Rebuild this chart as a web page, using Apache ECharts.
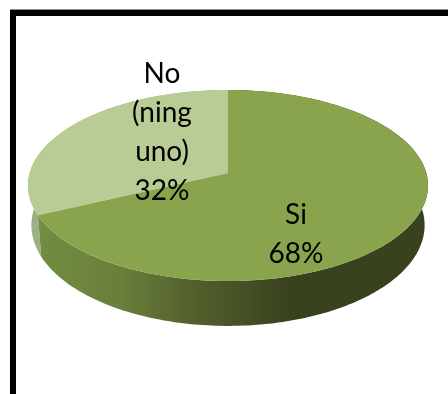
<!DOCTYPE html>
<html>
<head>
<meta charset="utf-8">
<style>
  html, body { margin: 0; padding: 0; background: #fff; overflow: hidden; }
  #chart { width: 448px; height: 394px; }
</style>
<script src="https://cdn.jsdelivr.net/npm/echarts@6/dist/echarts.min.js"></script>
</head>
<body>
<div id="chart"></div>
<script>
// Survey answers
const categories = ['No\n(ning\nuno)', 'Si'];
const values = [32, 68];

// Slice appearance, in the same order as the categories
const topColors = ['#B9CC95', '#89A44C'];
const wallFills = [
  '#9DB082',
  [[0, '#718E41'], [0.21, '#6B7E3B'], [0.41, '#505E2C'], [0.645, '#39421E'], [1, '#39421E']]
];
const labelSpots = [[162, 132], [296, 234]];

// Tilted-disc projection: the near side of the disc is drawn larger than the far side
const disc = { cx: 228, cy: 173, rx: 198.3, ry: 93.9, tilt: 0.1309, depth: 39, baseShrink: 0.983 };

function project(angle, drop) {
  const u = Math.sin(angle), v = -Math.cos(angle);
  const w = 1 - disc.tilt * v;
  const s = drop ? disc.baseShrink : 1;
  return [
    disc.cx + disc.rx * u * s / w,
    disc.cy + disc.ry * v / w + (drop ? disc.depth / w : 0)
  ];
}

function rim(from, to, drop) {
  const pts = [];
  const steps = Math.max(8, Math.ceil(Math.abs(to - from) / 0.02));
  for (let i = 0; i <= steps; i++) pts.push(project(from + (to - from) * i / steps, drop));
  return pts;
}

const total = values.reduce((a, b) => a + b, 0);

function renderSlice(params, api) {
  const i = params.dataIndex;
  const before = values.slice(0, i).reduce((a, b) => a + b, 0);
  // The first slice ends at twelve o'clock; slices run clockwise from its start
  const start = ((before - values[0]) / total) * Math.PI * 2;
  const end = start + (api.value(0) / total) * Math.PI * 2;

  const top = rim(start, end, false);
  const wallPts = top.concat(rim(end, start, true));
  const f = wallFills[i];
  const wallFill = Array.isArray(f)
    ? new echarts.graphic.LinearGradient(0, 0, 1, 0, f.map(s => ({ offset: s[0], color: s[1] })))
    : f;

  return {
    type: 'group',
    children: [
      { type: 'polygon', shape: { points: wallPts }, style: { fill: wallFill }, silent: true },
      { type: 'polygon', shape: { points: [[disc.cx, disc.cy]].concat(top) }, style: { fill: topColors[i] }, silent: true },
      {
        type: 'text', z2: 20, silent: true,
        style: {
          text: categories[i] + '\n' + Math.round(api.value(0) / total * 100) + '%',
          x: labelSpots[i][0], y: labelSpots[i][1],
          align: 'center', verticalAlign: 'middle',
          font: '28px Lato', lineHeight: 39, fill: '#000'
        }
      }
    ]
  };
}

const chart = echarts.init(document.getElementById('chart'), null, { renderer: 'canvas' });
chart.setOption({
  animation: false,
  backgroundColor: '#fff',
  graphic: [
    // Outer frame, running off the right and bottom edges
    {
      type: 'rect', silent: true,
      shape: { x: 13, y: 13, width: 600, height: 600 },
      style: { fill: 'none', stroke: '#000', lineWidth: 6 }
    },
    {
      type: 'rect', silent: true,
      shape: { x: 10, y: 9, width: 438, height: 1 },
      style: { fill: '#8C8C8C' }
    }
  ],
  series: [{
    type: 'custom',
    coordinateSystem: 'none',
    silent: true,
    renderItem: renderSlice,
    data: values.map(v => [v])
  }]
});
</script>
</body>
</html>
